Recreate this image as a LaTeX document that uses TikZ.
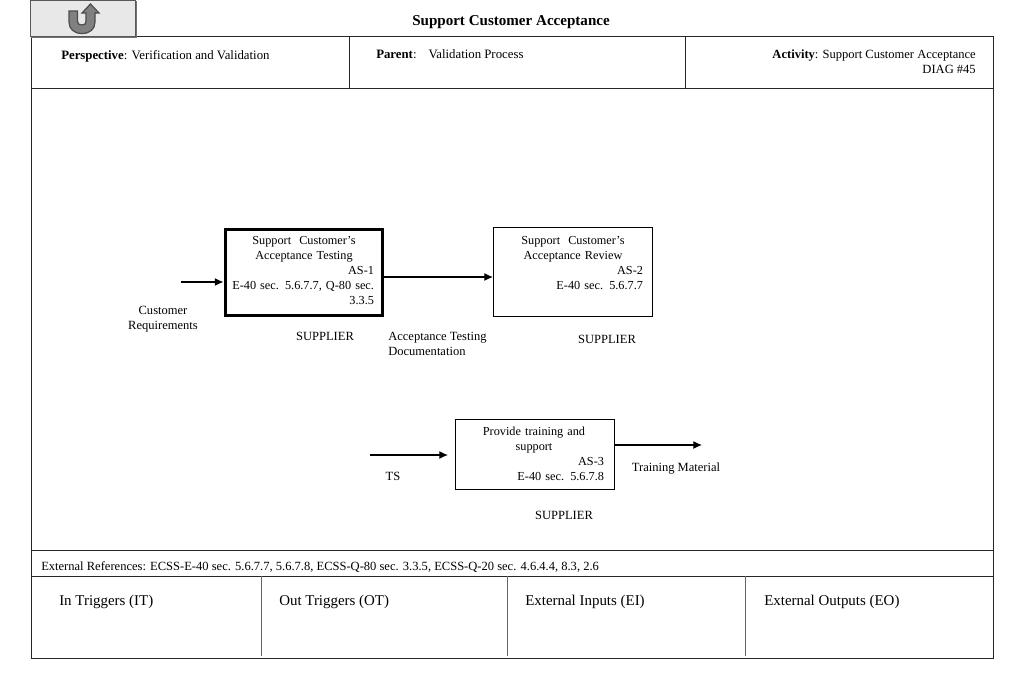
\documentclass[tikz,border=0pt]{standalone}
\usepackage{fontspec}
\setmainfont{Liberation Serif}
\usetikzlibrary{arrows.meta}

\tikzset{
	main/.style = {draw, line width=0.75pt, inner sep=0pt, anchor=north west},
	boxtext/.style = {anchor=north, text width=105pt, align=right, inner sep=0pt, font=\fontsize{9.2pt}{11.25pt}\selectfont},
	lbl/.style = {inner sep=0pt, align=left, font=\fontsize{9.4pt}{11.25pt}\selectfont},
	midlbl/.style = {lbl, align=center},
	trig/.style = {inner sep=0pt, anchor=west, font=\fontsize{11.2pt}{13pt}\selectfont},
	rule/.style = {line width=0.75pt, black!85},
	flow/.style = {line width=0.9pt, -{Latex[length=6.5pt,width=6pt]}}
}
\newcommand{\midline}[1]{\makebox[\linewidth][c]{#1}}

\begin{document}
\begin{tikzpicture}[x=0.75pt, y=-0.75pt]
	\useasboundingbox (0,0) rectangle (1023,682);

	%% Frame
	\node[draw=none, inner sep=0pt, minimum width=721.25pt, minimum height=466pt, anchor=north west] (frame) at (31,36.5) {};
	\draw[rule] (frame.north west) rectangle (frame.south east);
	\coordinate (head1) at (31,88.5);
	\coordinate (head2) at (frame.east |- head1);
	\coordinate (ref1) at (31,550);
	\coordinate (ref2) at (frame.east |- ref1);
	\coordinate (trig1) at (31,576);
	\coordinate (trig2) at (frame.east |- trig1);
	\draw[rule] (head1) -- (head2);
	\draw[rule] (ref1) -- (ref2);
	\draw[rule] (trig1) -- (trig2);
	\draw[rule] (349,36.5) -- (349,88.5);
	\draw[rule] (685,36.5) -- (685,88.5);
	\draw[rule, black!60] (261,576) -- (261,656);
	\draw[rule, black!60] (507,576) -- (507,656);
	\draw[rule, black!60] (745,576) -- (745,656);

	%% Back button
	\fill[black!55] (31,1) rectangle (137,38);
	\node[main, fill=black!9, draw=black!65, minimum width=78.75pt, minimum height=27.5pt] (back) at (30,-0.5) {};
	\draw[black!70, fill=black!50, line width=0.9pt]
		(69,11) -- (69,22) .. controls (69,29) and (74,33.5) .. (82,33.5)
		.. controls (90,33.5) and (95,29) .. (95,22) -- (95,13) -- (99,13) -- (90.5,4) -- (82,13) -- (86,13)
		-- (86,21) .. controls (86,24) and (85,25) .. (82,25)
		.. controls (79,25) and (77.5,24) .. (77.5,21) -- (77.5,11) -- cycle;

	%% Header texts
	\node[lbl, font=\fontsize{11.3pt}{12pt}\selectfont\bfseries] (title) at (511,22) {Support Customer Acceptance};
	\node[lbl, anchor=base west, font=\fontsize{9.6pt}{12pt}\selectfont] (persp) at (61,59.5) {\textbf{Perspective}: Verification and Validation};
	\node[lbl, anchor=base west, font=\fontsize{9.6pt}{12pt}\selectfont] (parent) at (376,58) {\textbf{Parent}:\hspace{9pt}Validation Process};
	\node[lbl, anchor=north east, align=right] (activity) at (976,49.5) {\textbf{Activity}: Support Customer Acceptance\\DIAG \#45};

	%% Nodes
	\node[main, line width=2.25pt, minimum width=118pt, minimum height=65pt] (as1) at (223.5,227.5) {};
	\node[main, minimum width=119.25pt, minimum height=67pt] (as2) at (493,227) {};
	\node[main, minimum width=119pt, minimum height=52.5pt] (as3) at (455,419) {};

	\node[boxtext] (as1text) at (304,236) {\midline{Support\hspace{3pt} Customer’s}\\\midline{Acceptance Testing}\\AS-1\\\makebox[\linewidth][r]{E-40 sec. 5.6.7.7, Q-80 sec.}\\3.3.5};
	\node[boxtext] (as2text) at (573,236) {\midline{Support\hspace{3pt} Customer’s}\\\midline{Acceptance Review}\\AS-2\\E-40 sec. 5.6.7.7};
	\node[boxtext] (as3text) at (534,427) {\midline{Provide training and}\\\midline{support}\\AS-3\\E-40 sec. 5.6.7.8};

	\node[midlbl] (custreq) at (163,319) {Customer\\Requirements};
	\node[midlbl] (sup1) at (325,336) {SUPPLIER};
	\node[lbl, anchor=west] (acctest) at (388,344) {Acceptance Testing\\Documentation};
	\node[midlbl] (sup2) at (607,339) {SUPPLIER};
	\node[midlbl] (ts) at (393,476) {TS};
	\node[midlbl] (trainmat) at (676,468) {Training Material};
	\node[midlbl] (sup3) at (564,515) {SUPPLIER};

	\node[lbl, anchor=base west] (extref) at (41,570) {External References: ECSS-E-40 sec. 5.6.7.7, 5.6.7.8, ECSS-Q-80 sec. 3.3.5, ECSS-Q-20 sec. 4.6.4.4, 8.3, 2.6};

	\node[trig] (it) at (59,601.5) {In Triggers (IT)};
	\node[trig] (ot) at (279,601.5) {Out Triggers (OT)};
	\node[trig] (ei) at (525,601.5) {External Inputs (EI)};
	\node[trig] (eo) at (764,601.5) {External Outputs (EO)};

	%% Edges
	\coordinate (in1) at (181,282);
	\coordinate (in3) at (370,455);
	\coordinate (in3end) at (448,455);
	\coordinate (out3) at (702,445);
	\draw[flow] (in1) -- (in1 -| as1.west);
	\draw[flow] (as1.east |- 0,277) -- (as2.west |- 0,277);
	\draw[flow] (in3) -- (in3end);
	\draw[flow] (as3.east |- out3) -- (out3);

	\end{tikzpicture}
\end{document}
